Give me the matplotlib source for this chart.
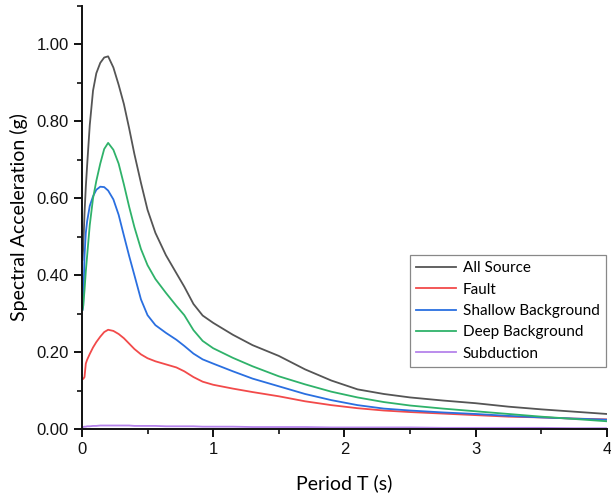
import numpy as np
import matplotlib
matplotlib.use("Agg")
import matplotlib.pyplot as plt
from matplotlib.ticker import MultipleLocator, FormatStrFormatter

# period grid (s)
period = [0.005, 0.01, 0.02, 0.03, 0.04, 0.06, 0.085, 0.11, 0.14, 0.17, 0.2,
          0.24, 0.28, 0.32, 0.36, 0.4, 0.45, 0.5, 0.56, 0.64, 0.72, 0.78,
          0.85, 0.92, 1.0, 1.15, 1.3, 1.5, 1.7, 1.9, 2.1, 2.3, 2.5, 2.75,
          3.0, 3.25, 3.5, 3.75, 4.0]

all_source = [0.44, 0.47, 0.56, 0.63, 0.685, 0.79, 0.88, 0.925, 0.952, 0.966, 0.969,
              0.94, 0.895, 0.845, 0.782, 0.715, 0.64, 0.57, 0.51, 0.452, 0.405, 0.37,
              0.325, 0.295, 0.276, 0.245, 0.218, 0.19, 0.155, 0.126, 0.103, 0.091, 0.082, 0.074,
              0.067, 0.058, 0.051, 0.045, 0.039]

fault = [0.13, 0.13, 0.135, 0.17, 0.18, 0.195, 0.212, 0.226, 0.24, 0.252, 0.258,
         0.255, 0.247, 0.236, 0.222, 0.208, 0.194, 0.184, 0.176, 0.168, 0.16, 0.15,
         0.135, 0.123, 0.115, 0.105, 0.096, 0.085, 0.072, 0.062, 0.054, 0.048, 0.044, 0.04,
         0.036, 0.032, 0.03, 0.027, 0.025]

shallow = [0.31, 0.32, 0.45, 0.51, 0.54, 0.58, 0.605, 0.622, 0.63, 0.629, 0.62,
           0.597, 0.557, 0.503, 0.45, 0.4, 0.337, 0.296, 0.27, 0.25, 0.232, 0.216,
           0.196, 0.181, 0.17, 0.15, 0.131, 0.111, 0.091, 0.075, 0.062, 0.053, 0.048, 0.043,
           0.039, 0.034, 0.03, 0.027, 0.024]

deep = [0.31, 0.32, 0.36, 0.41, 0.45, 0.53, 0.6, 0.645, 0.69, 0.728, 0.744,
        0.726, 0.69, 0.636, 0.578, 0.525, 0.468, 0.426, 0.39, 0.354, 0.32, 0.296,
        0.257, 0.229, 0.21, 0.185, 0.163, 0.137, 0.116, 0.097, 0.082, 0.07, 0.061, 0.053,
        0.046, 0.039, 0.032, 0.026, 0.02]

subduction = [0.005, 0.005, 0.006, 0.006, 0.007, 0.007, 0.008, 0.008, 0.009, 0.009, 0.009,
              0.009, 0.009, 0.009, 0.009, 0.008, 0.008, 0.008, 0.008, 0.007, 0.007, 0.007,
              0.007, 0.006, 0.006, 0.006, 0.005, 0.005, 0.005, 0.004, 0.004, 0.004, 0.004, 0.003,
              0.003, 0.003, 0.003, 0.002, 0.002]

series = [("All Source", all_source, "#555555"),
          ("Fault", fault, "#f24a4a"),
          ("Shallow Background", shallow, "#2a6fe0"),
          ("Deep Background", deep, "#2fb26a"),
          ("Subduction", subduction, "#b583eb")]

fig = plt.figure(figsize=(6.11, 4.98), dpi=100)
ax = fig.add_axes([0.134, 0.1386, 0.8595, 0.8494])

for name, vals, col in series:
    ax.plot(period, vals, color=col, lw=1.3, label=name)

ax.set_xlim(0, 4)
ax.set_ylim(0, 1.10)
ax.xaxis.set_major_locator(MultipleLocator(1))
ax.xaxis.set_minor_locator(MultipleLocator(0.5))
ax.yaxis.set_major_locator(MultipleLocator(0.2))
ax.yaxis.set_minor_locator(MultipleLocator(0.1))
ax.yaxis.set_major_formatter(FormatStrFormatter('%.2f'))

for s in ["top", "right"]:
    ax.spines[s].set_visible(False)
for s in ["left", "bottom"]:
    ax.spines[s].set_linewidth(1.4)
    ax.spines[s].set_color("#111111")

ax.tick_params(which="major", direction="out", length=6, width=1.4,
               labelsize=12, colors="#111111")
ax.tick_params(which="minor", direction="out", length=3.5, width=1.2, colors="#111111")
for lab in ax.get_xticklabels() + ax.get_yticklabels():
    lab.set_fontfamily("Liberation Sans")

ax.set_xlabel("Period T (s)", fontsize=14, family="Lato", labelpad=12)
ax.set_ylabel("Spectral Acceleration (g)", fontsize=14, family="Lato", labelpad=6)

leg = ax.legend(loc="upper left", bbox_to_anchor=(0.625, 0.411), borderaxespad=0,
                prop={"family": "Lato", "size": 11}, fancybox=False, framealpha=1,
                edgecolor="#888888", handlelength=2.6, handletextpad=0.45,
                labelspacing=0.48, borderpad=0.4)
leg.get_frame().set_linewidth(0.9)

fig.savefig("out.png", dpi=100)
